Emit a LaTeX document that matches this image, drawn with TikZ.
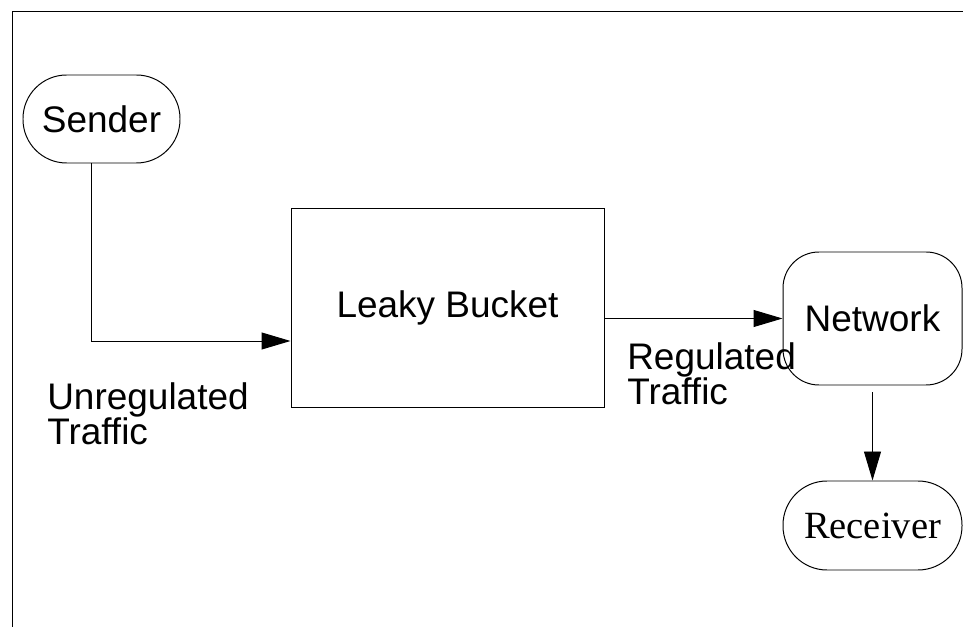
\documentclass[tikz,border=0pt]{standalone}
\usepackage{fontspec}
\setmainfont{Liberation Sans}
\newfontfamily\serifrm{Liberation Serif}
\usetikzlibrary{arrows.meta,positioning}
\tikzset{
	flowline/.style={line width=0.7pt},
	flowarrow/.style={flowline, -{Triangle[length=0.725cm,width=0.425cm]}},
	pill/.style={draw, line width=0.7pt, minimum width=3.925cm, minimum height=2.2cm, rounded corners=1.09cm, inner sep=0pt, font=\fontsize{26.3}{24.9}\selectfont},
	blockbox/.style={draw, line width=0.7pt, inner sep=0pt, font=\fontsize{26.3}{24.9}\selectfont},
	flowlabel/.style={anchor=north west, inner sep=0pt, align=left, font=\fontsize{26.3}{24.9}\selectfont}
}
\begin{document}
\begin{tikzpicture}
			%%%%% START %%%%%
			
			\useasboundingbox (0, 0) rectangle (24.075, 15.675);
			\draw[flowline] (24.075, 15.375) -- (0.3, 15.375) -- (0.3, 0);
			
			\node[pill] (sender) at (2.5375, 12.7) {Sender};
			\node[blockbox, minimum width=7.825cm, minimum height=4.975cm] (bucket) at (11.1875, 7.9875) {Leaky Bucket};
			\node[blockbox, minimum width=4.475cm, minimum height=3.325cm, rounded corners=0.9cm] (network) at (21.8125, 7.7125) {Network};
			\node[pill, minimum width=4.475cm, minimum height=2.225cm, rounded corners=1.1cm, font=\fontsize{27.4}{30}\serifrm] (receiver) at (21.8125, 2.5375) {Receiver};
			
			\coordinate (bend) at (2.275, 7.15);
			\draw[flowarrow] (bend |- sender.south) -- (bend) -- (bend -| bucket.west);
			\draw[flowarrow] (network.west -| bucket.east) -- (network.west);
			\draw[flowarrow, shorten <=0.175cm] (network.south) -- (receiver.north);
			
			\node[flowlabel] (unreg) at (1.175, 6.125) {Unregulated\\Traffic};
			\node[flowlabel] (reg) at (15.675, 7.125) {Regulated\\Traffic};
			
			%%%%% END %%%%%
		\end{tikzpicture}
\end{document}
